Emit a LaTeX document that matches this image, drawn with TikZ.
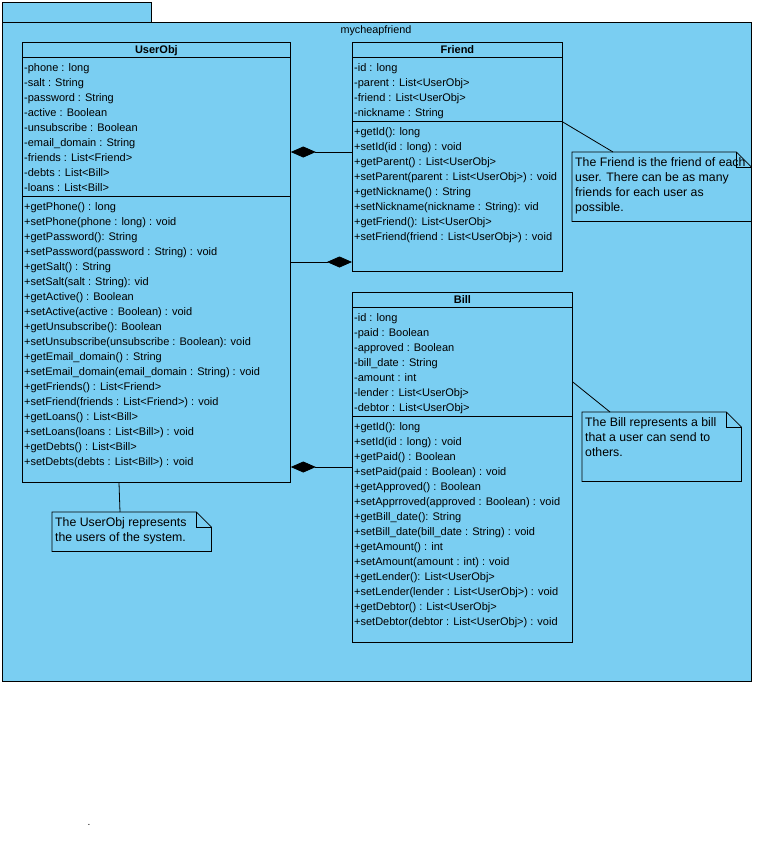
\documentclass[tikz,border=0pt]{standalone}
\usepackage{fontspec}
\setmainfont{Liberation Sans}
\usepackage{xcolor}
\usetikzlibrary{arrows.meta, positioning, calc}
\definecolor{pkgblue}{RGB}{122,206,242}
\tikzset{
    pkg/.style={rectangle, draw, fill=pkgblue, line width=0.8pt, anchor=north west, inner sep=0},
    classbox/.style={rectangle, draw, line width=0.8pt, anchor=north west, inner sep=0},
    classname/.style={anchor=base, inner sep=0, font=\bfseries\fontsize{11}{12}\selectfont},
    member/.style={anchor=base west, inner sep=0, font=\fontsize{11}{12}\selectfont},
    notebox/.style={rectangle, anchor=north west, inner sep=0},
    notetext/.style={anchor=north west, align=left, inner sep=0, font=\fontsize{12.3}{15}\selectfont},
    comp/.style={-{Diamond[length=25pt, width=11pt]}, line width=0.8pt},
    link/.style={line width=0.8pt}
}

\begin{document}
\begin{tikzpicture}[x=1pt, y=-1pt]
    \useasboundingbox (0,0) rectangle (756,852);

    % package
    \node[pkg, minimum width=149, minimum height=20] (pkgtab) at (2,2) {};
    \node[pkg, minimum width=749, minimum height=659] (pkg) at (2,22) {};
    \node[anchor=base, inner sep=0, font=\fontsize{10.8}{12}\selectfont] (pkgname) at (376,33.5) {mycheapfriend};

    % classes
    \node[classbox, minimum width=268, minimum height=440] (user) at (22,42) {};
    \node[classbox, minimum width=210, minimum height=229] (friend) at (352,42) {};
    \node[classbox, minimum width=220, minimum height=350] (bill) at (352,292) {};

    \node[classname] (usertitle) at ([yshift=-11.5pt]user.north) {UserObj};
    \node[classname] (friendtitle) at ([yshift=-11.5pt]friend.north) {Friend};
    \node[classname] (billtitle) at ([yshift=-11.5pt]bill.north) {Bill};

    \draw[link] ([yshift=-15pt]user.north west) -- ([yshift=-15pt]user.north east);
    \draw[link] ([yshift=-154pt]user.north west) -- ([yshift=-154pt]user.north east);
    \draw[link] ([yshift=-15pt]friend.north west) -- ([yshift=-15pt]friend.north east);
    \draw[link] ([yshift=-79pt]friend.north west) -- ([yshift=-79pt]friend.north east);
    \draw[link] ([yshift=-15pt]bill.north west) -- ([yshift=-15pt]bill.north east);
    \draw[link] ([yshift=-124pt]bill.north west) -- ([yshift=-124pt]bill.north east);

    % UserObj members
    \foreach \m [count=\i] in {-phone : long, -salt : String, -password : String,
        -active : Boolean, -unsubscribe : Boolean, -email\_domain : String,
        -friends : List<Friend>, -debts : List<Bill>, -loans : List<Bill>}
        \node[member] (ua\i) at ([xshift=2pt, yshift=-14pt-15pt*\i]user.north west) {\m};
    \foreach \m [count=\i] in {+getPhone() : long, +setPhone(phone : long) : void,
        +getPassword(): String, +setPassword(password : String) : void,
        +getSalt() : String, +setSalt(salt : String): vid,
        +getActive() : Boolean, +setActive(active : Boolean) : void,
        +getUnsubscribe(): Boolean, +setUnsubscribe(unsubscribe : Boolean): void,
        +getEmail\_domain() : String, +setEmail\_domain(email\_domain : String) : void,
        +getFriends() : List<Friend>, +setFriend(friends : List<Friend>) : void,
        +getLoans() : List<Bill>, +setLoans(loans : List<Bill>) : void,
        +getDebts() : List<Bill>, +setDebts(debts : List<Bill>) : void}
        \node[member] (um\i) at ([xshift=2pt, yshift=-153pt-15pt*\i]user.north west) {\m};

    % Friend members
    \foreach \m [count=\i] in {-id : long, -parent : List<UserObj>,
        -friend : List<UserObj>, -nickname : String}
        \node[member] (fa\i) at ([xshift=2pt, yshift=-14pt-15pt*\i]friend.north west) {\m};
    \foreach \m [count=\i] in {+getId(): long, +setId(id : long) : void,
        +getParent() : List<UserObj>, +setParent(parent : List<UserObj>) : void,
        +getNickname() : String, +setNickname(nickname : String): vid,
        +getFriend(): List<UserObj>, +setFriend(friend : List<UserObj>) : void}
        \node[member] (fm\i) at ([xshift=2pt, yshift=-78pt-15pt*\i]friend.north west) {\m};

    % Bill members
    \foreach \m [count=\i] in {-id : long, -paid : Boolean, -approved : Boolean,
        -bill\_date : String, -amount : int, -lender : List<UserObj>,
        -debtor : List<UserObj>}
        \node[member] (ba\i) at ([xshift=2pt, yshift=-14pt-15pt*\i]bill.north west) {\m};
    \foreach \m [count=\i] in {+getId(): long, +setId(id : long) : void,
        +getPaid() : Boolean, +setPaid(paid : Boolean) : void,
        +getApproved() : Boolean, +setApprroved(approved : Boolean) : void,
        +getBill\_date(): String, +setBill\_date(bill\_date : String) : void,
        +getAmount() : int, +setAmount(amount : int) : void,
        +getLender(): List<UserObj>, +setLender(lender : List<UserObj>) : void,
        +getDebtor() : List<UserObj>, +setDebtor(debtor : List<UserObj>) : void}
        \node[member] (bm\i) at ([xshift=2pt, yshift=-123pt-15pt*\i]bill.north west) {\m};

    % compositions
    \draw[comp] ([yshift=-110pt]friend.north west) -- ([yshift=-110pt]user.north east);
    \draw[comp] ([yshift=-220pt]user.north east) -- ([yshift=-220pt]friend.north west);
    \draw[comp] ([yshift=-175pt]bill.north west) -- ([yshift=-425pt]user.north east);

    % notes
    \node[notebox, minimum width=179, minimum height=69] (friendnote) at (572,152) {};
    \node[notebox, minimum width=159, minimum height=69] (billnote) at (582,412) {};
    \node[notebox, minimum width=159, minimum height=39] (usernote) at (52,512) {};
    \foreach \n in {friendnote, billnote, usernote} {
        \draw[link] (\n.north west) -- ([xshift=-15pt]\n.north east)
            -- ([yshift=-15pt]\n.north east) -- (\n.south east) -- (\n.south west) -- cycle;
        \draw[link] ([xshift=-15pt]\n.north east) |- ([yshift=-15pt]\n.north east);
    }
    \node[notetext] (friendtext) at ([xshift=3pt, yshift=-5.5pt]friendnote.north west)
        {The Friend is the friend of each\\user. There can be as many\\friends for each user as\\possible.};
    \node[notetext] (billtext) at ([xshift=3pt, yshift=-5.5pt]billnote.north west)
        {The Bill represents a bill\\that a user can send to\\others.};
    \node[notetext] (usertext) at ([xshift=3pt, yshift=-5.5pt]usernote.north west)
        {The UserObj represents\\the users of the system.};

    \draw[link] ([yshift=-80pt]friend.north east) -- ([xshift=41pt]friendnote.north west);
    \draw[link] ([yshift=-90pt]bill.north east) -- ([xshift=28pt]billnote.north west);
    \draw[link] ([xshift=97pt]user.south west) -- ([xshift=68pt]usernote.north west);

    \node[anchor=base, inner sep=0, font=\fontsize{10}{12}\selectfont] (dot) at (89,825) {.};
\end{tikzpicture}
\end{document}
